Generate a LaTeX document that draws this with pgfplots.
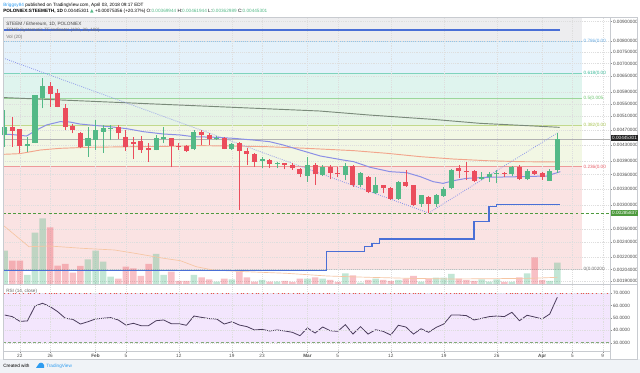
\documentclass[border=0pt]{standalone}
\usepackage{pgfplots}
\pgfplotsset{compat=1.18}
\usepackage{pgfplotstable}
\usepackage{fontspec}
\setmainfont{Liberation Sans}
\newfontfamily\dejavu{DejaVu Sans}
\newcommand\tf{\fontsize{3.5}{4.2}\selectfont}

\definecolor{upc}{HTML}{53B987}
\definecolor{dnc}{HTML}{EB4D5C}
\definecolor{fibgray}{HTML}{EDEDEF}
\definecolor{fibblue}{HTML}{E4F1FA}
\definecolor{fibteal}{HTML}{DFF4EE}
\definecolor{fibgreen}{HTML}{E5F4E5}
\definecolor{fibyel}{HTML}{F2F7E4}
\definecolor{fibred}{HTML}{FAE3E3}
\definecolor{lblue}{HTML}{8EC5EC}
\definecolor{lteal}{HTML}{7FD3BD}
\definecolor{lgreen}{HTML}{9CD69B}
\definecolor{lyel}{HTML}{C2D98C}
\definecolor{lred}{HTML}{EE9A9A}
\definecolor{tblue}{HTML}{6AAEE6}
\definecolor{tteal}{HTML}{35B896}
\definecolor{tgreen}{HTML}{6CC46E}
\definecolor{tyel}{HTML}{A6C34E}
\definecolor{tred}{HTML}{E85C66}
\definecolor{stepblue}{HTML}{4A6FD6}
\definecolor{ma20}{HTML}{8B8FE6}
\definecolor{ma50}{HTML}{F2A58C}
\definecolor{ma200}{HTML}{7A8A7A}
\definecolor{trend}{HTML}{8C96EA}
\definecolor{stopgreen}{HTML}{4E9A3E}
\definecolor{volma}{HTML}{F6C6A4}
\definecolor{rsifill}{HTML}{F3E6FD}
\definecolor{rsiline}{HTML}{4B3D5C}
\definecolor{rsired}{HTML}{F04A4A}
\definecolor{rsigreen}{HTML}{82AA78}
\definecolor{frame}{HTML}{C8CBD0}
\definecolor{footbg}{HTML}{F0F3F7}
\definecolor{tvblue}{HTML}{2E9CF0}

\pgfplotstableread{
i O H L C
0 0.004553 0.005300 0.004254 0.004776
3 0.004271 0.004517 0.004129 0.004314
4 0.004357 0.005810 0.004340 0.005797
5 0.005705 0.006406 0.005352 0.006118
11 0.004271 0.004795 0.004007 0.004472
12 0.004427 0.004991 0.004170 0.004701
13 0.004645 0.004843 0.004104 0.004757
14 0.004740 0.004843 0.004427 0.004757
20 0.004170 0.004562 0.004160 0.004472
21 0.004445 0.004795 0.004340 0.004517
25 0.004187 0.004701 0.004170 0.004645
28 0.004445 0.004535 0.004427 0.004490
30 0.004204 0.004340 0.004170 0.004323
34 0.003912 0.004007 0.003737 0.003944
36 0.003842 0.003889 0.003737 0.003866
40 0.003569 0.004007 0.003450 0.003812
42 0.003590 0.003812 0.003569 0.003774
45 0.003590 0.003850 0.003484 0.003797
47 0.003382 0.003663 0.003348 0.003626
49 0.003230 0.003541 0.003204 0.003375
52 0.003110 0.003455 0.003091 0.003450
55 0.003018 0.003192 0.002970 0.003179
57 0.003018 0.003204 0.002970 0.003185
58 0.003172 0.003348 0.003154 0.003301
59 0.003315 0.003714 0.003295 0.003700
63 0.003512 0.003663 0.003484 0.003541
64 0.003541 0.003663 0.003450 0.003612
65 0.003612 0.003700 0.003415 0.003641
67 0.003612 0.003789 0.003569 0.003759
69 0.003498 0.003714 0.003484 0.003685
72 0.003471 0.003714 0.003464 0.003685
73 0.00369944 0.00461944 0.00362989 0.00445301
}\upcandles

\pgfplotstableread{
i O H L C
1 0.004776 0.005091 0.004254 0.004682
2 0.004720 0.004730 0.004088 0.004271
6 0.006118 0.006253 0.005384 0.005820
7 0.005879 0.006009 0.005384 0.005405
8 0.005373 0.005493 0.004701 0.004795
9 0.004815 0.004873 0.004608 0.004701
10 0.004626 0.004640 0.004212 0.004254
15 0.004795 0.004843 0.004445 0.004608
16 0.004517 0.004701 0.004154 0.004254
17 0.004383 0.004499 0.003944 0.004323
18 0.004400 0.004535 0.004104 0.004170
19 0.004230 0.004340 0.003889 0.004170
22 0.004472 0.004480 0.003759 0.004271
23 0.004280 0.004340 0.004170 0.004254
24 0.004271 0.004297 0.004129 0.004145
26 0.004645 0.004701 0.004297 0.004562
27 0.004562 0.004608 0.004297 0.004445
29 0.004472 0.004499 0.004187 0.004204
31 0.004340 0.004383 0.002911 0.004145
32 0.004145 0.004212 0.003812 0.004063
33 0.004063 0.004088 0.003774 0.003889
35 0.003928 0.003944 0.003737 0.003827
37 0.003850 0.003866 0.003714 0.003812
38 0.003812 0.003850 0.003700 0.003737
39 0.003729 0.003737 0.003541 0.003612
41 0.003812 0.003850 0.003382 0.003612
43 0.003774 0.003812 0.003498 0.003641
44 0.003641 0.003774 0.003541 0.003612
46 0.003797 0.003812 0.003348 0.003382
48 0.003541 0.003569 0.003217 0.003249
50 0.003375 0.003382 0.003217 0.003315
51 0.003315 0.003348 0.003091 0.003110
53 0.003450 0.003700 0.003348 0.003361
54 0.003382 0.003390 0.002982 0.003000
56 0.003154 0.003172 0.002854 0.003012
60 0.003737 0.003812 0.003519 0.003685
61 0.003685 0.003889 0.003484 0.003655
62 0.003670 0.003700 0.003450 0.003471
66 0.003634 0.003663 0.003541 0.003619
68 0.003774 0.003812 0.003484 0.003498
70 0.003670 0.003700 0.003583 0.003612
71 0.003641 0.003663 0.003484 0.003555
}\dncandles

\pgfplotstableread{
i v
0 33.3
3 9
4 51.3
5 65.7
11 24.7
12 33.3
13 22.3
14 7.3
20 30
21 9
25 9
28 2.3
30 4.7
34 4
36 2.3
40 5.3
42 5.3
45 10.7
47 1.3
49 5.3
52 4
55 2.3
57 6.3
58 6.3
59 10
63 4.7
64 2.3
65 4.7
67 2
69 10.7
72 3
73 21.3
}\volup

\pgfplotstableread{
i v
1 23.3
2 23.3
6 56.7
7 18.3
8 20
9 11.3
10 18
15 5.3
16 17.3
17 15.7
18 8
19 20
22 12.3
23 3
24 3
26 6.7
27 4.7
29 5.3
31 12.3
32 6.7
33 2.3
35 2.3
37 3
38 2
39 5.3
41 6.7
43 4
44 2
46 8.7
48 4
50 4
51 3
53 5.3
54 8
56 5.3
60 5.3
61 4
62 3
66 2
68 6.7
70 26.7
71 4
}\voldn

\pgfplotstableread{
i r
0 52.4
1 51.1
2 47.3
3 47.6
4 59.7
5 61.9
6 59.2
7 55.1
8 49.8
9 48.9
10 45.1
11 47.0
12 49.2
13 49.8
14 50.3
15 48.4
16 44.3
17 45.7
18 43.8
19 43.8
20 47.8
21 48.4
22 45.4
23 45.4
24 44.1
25 51.6
26 50.5
27 49.5
28 49.2
29 45.1
30 47.0
31 44.3
32 43.0
33 40.3
34 40.8
35 39.5
36 40.3
37 39.5
38 38.4
39 35.7
40 41.9
41 37.8
42 42.7
43 39.7
44 39.2
45 44.6
46 37.0
47 43.0
48 37.0
49 40.5
50 39.2
51 36.2
52 44.1
53 42.7
54 37.0
55 41.3
56 38.4
57 42.4
58 45.1
59 52.4
60 52.4
61 51.9
62 48.4
63 49.7
64 51.1
65 51.6
66 51.1
67 54.6
68 47.8
69 52.2
70 50.8
71 49.2
72 53.2
73 66.8
}\rsidata

\begin{document}
\begin{tikzpicture}
\useasboundingbox (0,0) rectangle (480pt,279.75pt);
\fill[white] (0,0) rectangle (480pt,279.75pt);
\begin{scope}[x=0.75pt,y=-0.75pt,shift={(0pt,279.75pt)}]
  \fill[footbg] (0,359) rectangle (640,373);
\end{scope}

% ---------- background: fib fills, grid, price axis ----------
\begin{axis}[scale only axis, width=455.25pt, height=200.25pt,
  at={(2.25pt,66.75pt)}, anchor=south west, xmin=-0.225, xmax=79.96,
  ymode=log, ymin=0.0018694, ymax=0.0092479,
  axis on top,
  xtick={2,6,12,16,23,30,34,40,44,51,58,65,71,75,79}, xticklabels={},
  xmajorticks=false,
  axis line style={draw=frame, line width=0.5pt},
  xmajorgrids, ymajorgrids,
  grid style={draw=black!13, densely dotted, line width=0.3pt},
  ytick={0.0019,0.00204,0.0022,0.0024,0.0026,0.0030,0.0033,0.0036,0.0039,0.0043,0.0047,0.0051,0.0055,0.0059,0.0065,0.0070,0.0075,0.0080,0.0090},
  yticklabels={0.00190000,0.00204000,0.00220000,0.00240000,0.00260000,0.00300000,0.00330000,0.00360000,0.00390000,0.00430000,0.00470000,0.00510000,0.00550000,0.00590000,0.00650000,0.00700000,0.00750000,0.00800000,0.00900000},
  ytick pos=right, yticklabel pos=right, tick align=outside,
  major tick length=1.5pt,
  tick style={draw=black!45, line width=0.3pt},
  tick label style={font=\tf, text=black!70},
  yticklabel style={anchor=west, inner sep=0.6pt},
]
\addplot[draw=none, fill=fibgray] coordinates {(-0.225,0.00801) (76.26,0.00801) (76.26,0.0092479) (-0.225,0.0092479)} -- cycle;
\addplot[draw=none, fill=fibblue] coordinates {(-0.225,0.00661) (76.26,0.00661) (76.26,0.00801) (-0.225,0.00801)} -- cycle;
\addplot[draw=none, fill=fibteal] coordinates {(-0.225,0.00569) (76.26,0.00569) (76.26,0.00661) (-0.225,0.00661)} -- cycle;
\addplot[draw=none, fill=fibgreen] coordinates {(-0.225,0.00484) (76.26,0.00484) (76.26,0.00569) (-0.225,0.00569)} -- cycle;
\addplot[draw=none, fill=fibyel] coordinates {(-0.225,0.00377) (76.26,0.00377) (76.26,0.00484) (-0.225,0.00484)} -- cycle;
\addplot[draw=none, fill=fibred] coordinates {(-0.225,0.00204) (76.26,0.00204) (76.26,0.00377) (-0.225,0.00377)} -- cycle;
\addplot[lblue, line width=0.6pt] coordinates {(-0.225,0.00801) (76.26,0.00801)};
\addplot[lteal, line width=0.6pt] coordinates {(-0.225,0.00661) (76.26,0.00661)};
\addplot[lgreen, line width=0.6pt] coordinates {(-0.225,0.00569) (76.26,0.00569)};
\addplot[lyel, line width=0.6pt] coordinates {(-0.225,0.00484) (76.26,0.00484)};
\addplot[lred, line width=0.6pt] coordinates {(-0.225,0.00377) (76.26,0.00377)};
\addplot[black!25, line width=0.6pt] coordinates {(-0.225,0.00204) (76.26,0.00204)};
\end{axis}

% ---------- volume ----------
\begin{axis}[scale only axis, width=455.25pt, height=200.25pt,
  at={(2.25pt,66.75pt)}, anchor=south west, xmin=-0.225, xmax=79.96,
  hide axis, ymin=0, ymax=267]
\addplot[ybar, bar width=4.9pt, bar shift=0pt, fill=upc, fill opacity=0.35, draw=none] table[x=i,y=v]{\volup};
\addplot[ybar, bar width=4.9pt, bar shift=0pt, fill=dnc, fill opacity=0.35, draw=none] table[x=i,y=v]{\voldn};
\addplot[volma, line width=0.5pt] coordinates {(-0.08,58) (3.2,37.3) (5.9,38) (10.2,35.7) (14.5,34) (17.2,30.7) (21,25.7) (23.2,23.3) (25.3,17.3) (27.5,14) (31.8,12.3) (37.2,10.7) (42.6,8) (48,6.7) (53.4,5.7) (58.8,5) (64.2,5.3) (69.6,5.7) (73,6.7)};
\end{axis}

% ---------- price overlays ----------
\begin{axis}[scale only axis, width=455.25pt, height=200.25pt,
  at={(2.25pt,66.75pt)}, anchor=south west, xmin=-0.225, xmax=79.96,
  ymode=log, ymin=0.0018694, ymax=0.0092479,
  hide axis, clip=false]
\addplot[black!30, line width=0.4pt] coordinates {(-0.225,0.00445301) (79.96,0.00445301)};
\addplot[stopgreen, line width=0.7pt, dash pattern=on 2.2pt off 1.6pt] coordinates {(-0.225,0.00285837) (79.96,0.00285837)};
\addplot[stepblue, line width=1.1pt] coordinates {(-0.225,0.00855) (73.4,0.00855)};
\addplot[stepblue, line width=1.1pt, const plot] coordinates {(-0.225,0.002024) (42.5,0.002268) (47.5,0.002337) (48.5,0.002385) (49.5,0.002447) (62,0.002721) (64,0.002970) (65,0.003013) (73.4,0.003013)};
\addplot[ma200, line width=0.7pt] coordinates {(-0.225,0.00571) (12.6,0.00557) (25.8,0.00543) (41.6,0.005267) (48.2,0.005141) (56.5,0.005011) (62.8,0.004892) (69.9,0.004815) (73.3,0.004776)};
\addplot[ma50, line width=0.7pt] coordinates {(-0.225,0.004063) (2.0,0.004080) (4.7,0.004170) (7.3,0.004212) (10.8,0.004237) (17.0,0.004254) (21.4,0.004263) (25.8,0.004280) (30.2,0.004271) (34.6,0.004254) (39.0,0.004220) (41.7,0.004195) (46.1,0.004154) (50.5,0.004088) (54.9,0.004007) (59.3,0.003951) (63.7,0.003912) (68.1,0.003889) (73.4,0.003881)};
\addplot[ma20, line width=0.75pt] coordinates {(-0.2,0.004589) (1.14,0.004571) (2.9,0.004535) (4.2,0.004701) (5.5,0.004843) (7.3,0.004941) (8.6,0.004931) (9.9,0.004873) (11.7,0.004834) (13.9,0.004795) (16.1,0.004739) (18.3,0.004654) (21.0,0.004589) (23.2,0.004562) (24.9,0.004517) (28.0,0.004499) (30.2,0.004472) (32.8,0.004427) (35.0,0.004383) (36.8,0.004297) (39.0,0.004170) (41.7,0.004023) (44.7,0.003928) (46.1,0.003889) (48.3,0.003759) (50.9,0.003663) (53.1,0.003641) (54.9,0.003555) (56.6,0.003450) (57.9,0.003415) (59.3,0.003471) (61.0,0.003519) (63.7,0.003541) (68.1,0.003555) (71.6,0.003569) (73.4,0.003663)};
\addplot[trend, densely dotted, line width=0.6pt] coordinates {(-0.2,0.007234) (56,0.00286) (73.2,0.004644)};
% candles: wicks
\addplot[draw=none, no markers, forget plot,
  error bars/y dir=plus, error bars/y explicit, error bars/error mark=none,
  error bars/error bar style={draw=upc, line width=0.55pt}]
  table[x=i, y=L, y error expr=\thisrow{H}-\thisrow{L}] {\upcandles};
\addplot[draw=none, no markers, forget plot,
  error bars/y dir=plus, error bars/y explicit, error bars/error mark=none,
  error bars/error bar style={draw=dnc, line width=0.55pt}]
  table[x=i, y=L, y error expr=\thisrow{H}-\thisrow{L}] {\dncandles};
% candles: bodies
\addplot[draw=none, no markers, forget plot,
  error bars/y dir=plus, error bars/y explicit, error bars/error mark=none,
  error bars/error bar style={draw=upc, line width=3.8pt}]
  table[x=i, y=O, y error expr=\thisrow{C}-\thisrow{O}] {\upcandles};
\addplot[draw=none, no markers, forget plot,
  error bars/y dir=plus, error bars/y explicit, error bars/error mark=none,
  error bars/error bar style={draw=dnc, line width=3.8pt}]
  table[x=i, y=C, y error expr=\thisrow{O}-\thisrow{C}] {\dncandles};
% fib labels
\node[font=\tf, anchor=west, inner sep=0.5pt, text=tblue] at (76.35,0.00801) {0.786(0.00};
\node[font=\tf, anchor=west, inner sep=0.5pt, text=tteal] at (76.35,0.00661) {0.618(0.00};
\node[font=\tf, anchor=west, inner sep=0.5pt, text=tgreen] at (76.35,0.00569) {0.5(0.005.};
\node[font=\tf, anchor=west, inner sep=0.5pt, text=tyel] at (76.35,0.00484) {0.382(0.00};
\node[font=\tf, anchor=west, inner sep=0.5pt, text=tred] at (76.35,0.00377) {0.236(0.00};
\node[font=\tf, anchor=west, inner sep=0.5pt, text=black!55] at (76.35,0.00204) {0(0.00200};
\end{axis}

% ---------- RSI ----------
\begin{axis}[scale only axis, width=455.25pt, height=50.25pt, at={(2.25pt,16.5pt)}, anchor=south west,
  xmin=-0.225, xmax=79.96, ymin=23.3, ymax=77.5, axis on top,
  xtick={2,6,12,16,23,30,34,40,44,51,58,65,71,75,79},
  xticklabels={22,26,\textbf{Feb},5,12,19,23,\textbf{Mar},5,12,19,26,\textbf{Apr},5,9},
  ytick={30,40,50,60,70}, yticklabels={30.0000,40.0000,50.0000,60.0000,70.0000},
  axis line style={draw=frame, line width=0.5pt},
  xmajorgrids, ymajorgrids,
  grid style={draw=black!13, densely dotted, line width=0.3pt},
  ytick pos=right, yticklabel pos=right, xtick pos=bottom, tick align=outside,
  major tick length=1.5pt,
  tick style={draw=black!45, line width=0.3pt},
  tick label style={font=\tf, text=black!70},
  yticklabel style={anchor=west, inner sep=0.6pt},
  xticklabel style={inner sep=0.8pt},
]
\addplot[draw=none, fill=rsifill] coordinates {(-0.225,30) (79.96,30) (79.96,70) (-0.225,70)} -- cycle;
\addplot[rsired, line width=0.7pt, dash pattern=on 2.2pt off 1.6pt] coordinates {(-0.225,70) (79.96,70)};
\addplot[rsigreen, line width=0.7pt, dash pattern=on 2.2pt off 1.6pt] coordinates {(-0.225,30) (79.96,30)};
\addplot[rsiline, line width=0.6pt] table[x=i,y=r]{\rsidata};
\end{axis}

% ---------- texts, frame ----------
\begin{scope}[x=0.75pt,y=-0.75pt,shift={(0pt,279.75pt)}]
  \draw[frame, line width=0.5pt] (3,17) rectangle (637,359);
  \draw[frame, line width=0.5pt] (3,284) -- (637,284);
  \draw[frame, line width=0.5pt] (610,351) -- (610,359);
  \node[font=\tf, anchor=west, inner sep=0pt] at (3,5) {\textcolor{tvblue}{Briggsy84} published on TradingView.com, April 03, 2018 09:17 EDT};
  \node[font=\tf, anchor=west, inner sep=0pt] at (3,11.5) {\textbf{POLONIEX:STEEMETH, 1D} 0.00445301 \textcolor{upc}{\dejavu ▲} +0.00075356 (+20.37\%) O:\textcolor{upc}{0.00369944} H:\textcolor{upc}{0.00461944} L:\textcolor{upc}{0.00362989} C:\textcolor{upc}{0.00445301}};
  \node[font=\tf, anchor=west, inner sep=0pt, text=black!75] at (6,24) {STEEM / Ethereum, 1D, POLONIEX};
  \node[font=\tf, anchor=west, inner sep=0pt, text=black!55] at (6,30.5) {TFMP Systematic TF Indicator (100, 20, 100)};
  \node[font=\tf, anchor=west, inner sep=0pt, text=black!55] at (6,37) {Vol (20)};
  \node[font=\tf, anchor=west, inner sep=0pt, text=black!60] at (6,291) {RSI (14, close)};
  \node[font=\tf, anchor=west, fill=black!85, text=white, inner sep=0.7pt] at (611,138) {0.00445301};
  \node[font=\tf, anchor=west, fill=stopgreen, text=white, inner sep=0.7pt] at (611,213) {0.00285837};
  \node[font=\tf, anchor=west, inner sep=0pt] at (3,366) {Created with};
  \node[font=\tf, anchor=west, inner sep=0pt, text=tvblue] at (46,366) {TradingView};
  \fill[tvblue] (36,368) -- (44,368) -- (44,365) .. controls (43,362) and (39,362) .. (38,365) -- cycle;
\end{scope}
\end{tikzpicture}
\end{document}
